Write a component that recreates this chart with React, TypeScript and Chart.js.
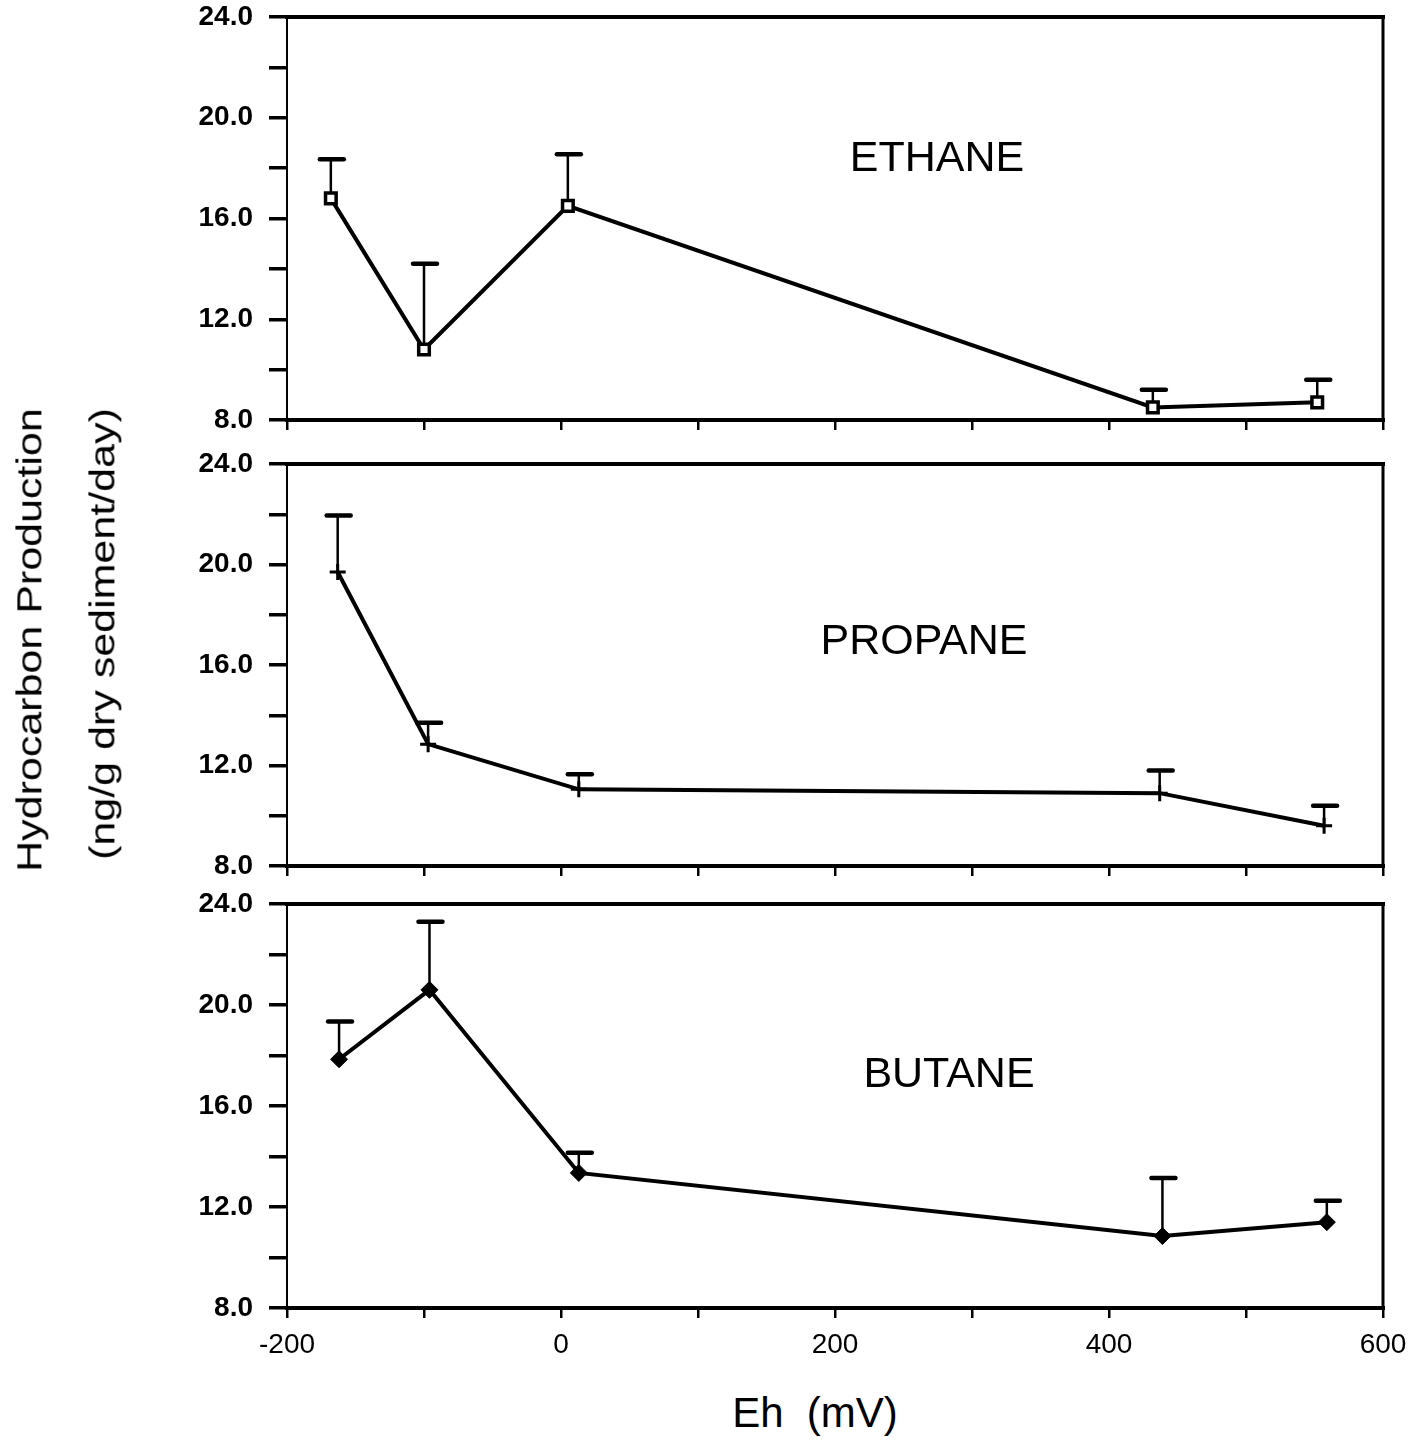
import React, { useEffect, useRef } from 'react';
import { Chart, registerables } from 'chart.js';

Chart.register(...registerables);

// ---------- Data ----------
const ethaneEh = [-168, -100, 5, 432, 552];
const ethaneValues = [16.8, 10.8, 16.5, 8.5, 8.7];
const ethaneErrTop = [18.35, 14.2, 18.55, 9.2, 9.6];

const propaneEh = [-163, -97, 13, 437, 557];
const propaneValues = [19.7, 12.85, 11.05, 10.9, 9.6];
const propaneErrTop = [21.95, 13.7, 11.65, 11.8, 10.4];

const butaneEh = [-162, -96, 13, 439, 559];
const butaneValues = [17.85, 20.6, 13.35, 10.85, 11.4];
const butaneErrTop = [19.35, 23.3, 14.15, 13.15, 12.25];

const panelNames = ['ETHANE', 'PROPANE', 'BUTANE'];
const xTitle = 'Eh  (mV)';
const yTitleLine1 = 'Hydrocarbon Production';
const yTitleLine2 = '(ng/g dry sediment/day)';

const X_MIN = -200;
const X_MAX = 600;
const X_STEP = 100;
const Y_MIN = 8;
const Y_MAX = 24;
const Y_STEP = 2;

// ---------- Layout ----------
const FONT = '"Liberation Sans", Arial, Helvetica, sans-serif';
const W = 1426;
const AREA_LEFT = 287;
const AREA_RIGHT = 1383;
const PAD_TOP = 16;

const framePlugin = {
  id: 'frame',
  afterDatasetsDraw(chart: any) {
    const { ctx, chartArea: a } = chart;
    ctx.save();
    ctx.strokeStyle = '#000';
    ctx.lineCap = 'square';
    const seg = (x1: number, y1: number, x2: number, y2: number, w: number) => {
      ctx.lineWidth = w;
      ctx.beginPath();
      ctx.moveTo(x1, y1);
      ctx.lineTo(x2, y2);
      ctx.stroke();
    };
    seg(a.left, a.top, a.right, a.top, 4);
    seg(a.left, a.bottom, a.right, a.bottom, 4);
    seg(a.left, a.top, a.left, a.bottom, 2);
    seg(a.right, a.top, a.right, a.bottom, 3);
    ctx.restore();
  },
};

const errorBarPlugin = {
  id: 'errbars',
  beforeDatasetsDraw(chart: any) {
    const { ctx, scales } = chart;
    const xs = scales.x;
    const ys = scales.y;
    chart.data.datasets.forEach((ds: any) => {
      if (!ds.errTop) return;
      ds.data.forEach((p: any, i: number) => {
        const px = xs.getPixelForValue(p.x);
        const py = ys.getPixelForValue(p.y);
        const pt = ys.getPixelForValue(ds.errTop[i]);
        ctx.save();
        ctx.strokeStyle = '#000';
        ctx.lineWidth = 2.5;
        ctx.beginPath();
        ctx.moveTo(px, py);
        ctx.lineTo(px, pt);
        ctx.stroke();
        ctx.lineWidth = 4.5;
        ctx.lineCap = 'round';
        ctx.beginPath();
        ctx.moveTo(px - 11, pt);
        ctx.lineTo(px + 13, pt);
        ctx.stroke();
        ctx.restore();
      });
    });
  },
};

type PanelProps = {
  eh: number[];
  values: number[];
  errTop: number[];
  areaTop: number;
  areaBottom: number;
  bottomExtra: number;
  showXLabels: boolean;
  pointStyle: string;
  pointRadius: number;
  pointBg: string;
  pointBorderWidth: number;
};

function Panel(props: PanelProps) {
  const ref = useRef<HTMLCanvasElement | null>(null);
  const height = PAD_TOP + (props.areaBottom - props.areaTop) + props.bottomExtra;
  const top = props.areaTop - PAD_TOP;

  useEffect(() => {
    if (!ref.current) return;
    const chart = new Chart(ref.current, {
      type: 'line',
      data: {
        datasets: [
          {
            data: props.eh.map((x, i) => ({ x, y: props.values[i] })),
            errTop: props.errTop,
            borderColor: '#000',
            borderWidth: 4,
            pointStyle: props.pointStyle as any,
            pointRadius: props.pointRadius,
            pointBackgroundColor: props.pointBg,
            pointBorderColor: '#000',
            pointBorderWidth: props.pointBorderWidth,
            tension: 0,
          } as any,
        ],
      },
      options: {
        animation: false,
        responsive: false,
        maintainAspectRatio: false,
        events: [],
        layout: { padding: { top: PAD_TOP, left: 0, right: W - AREA_RIGHT, bottom: 0 } },
        plugins: { legend: { display: false }, tooltip: { enabled: false } },
        scales: {
          x: {
            type: 'linear',
            min: X_MIN,
            max: X_MAX,
            border: { display: false },
            grid: { drawOnChartArea: false, drawTicks: true, tickLength: 10, lineWidth: 2.5, color: '#000' },
            ticks: {
              stepSize: X_STEP,
              color: '#000',
              padding: 10,
              font: { family: FONT, size: 28 },
              callback: (v: any) => (props.showXLabels && Number(v) % 200 === 0 ? String(v) : ''),
            },
            afterFit: (s: any) => {
              s.height = props.bottomExtra;
              s.paddingLeft = 0;
              s.paddingRight = 0;
            },
          },
          y: {
            type: 'linear',
            min: Y_MIN,
            max: Y_MAX,
            border: { display: false },
            grid: { drawOnChartArea: false, drawTicks: true, tickLength: 18, lineWidth: 3.5, color: '#000' },
            ticks: {
              stepSize: Y_STEP,
              color: '#000',
              padding: 16,
              font: { family: FONT, size: 28, weight: 'bold' },
              callback: (v: any) => (Number(v) % 4 === 0 ? Number(v).toFixed(1) : ''),
            },
            afterFit: (s: any) => {
              s.width = AREA_LEFT;
              s.paddingTop = 0;
              s.paddingBottom = 0;
            },
          },
        },
      } as any,
      plugins: [errorBarPlugin, framePlugin],
    });
    return () => chart.destroy();
  }, []);

  return (
    <canvas
      ref={ref}
      width={W}
      height={height}
      style={{ position: 'absolute', left: 0, top, width: W, height }}
    />
  );
}

const textBase: React.CSSProperties = {
  position: 'absolute',
  fontFamily: FONT,
  color: '#000',
  lineHeight: 1,
  whiteSpace: 'pre',
};

export default function App() {
  return (
    <div style={{ position: 'absolute', left: 0, top: 0, width: W, height: 1444, background: '#fff', overflow: 'hidden' }}>
      <Panel eh={ethaneEh} values={ethaneValues} errTop={ethaneErrTop} areaTop={17} areaBottom={420} bottomExtra={20}
        showXLabels={false} pointStyle="rect" pointRadius={7.5} pointBg="#fff" pointBorderWidth={3.5} />
      <Panel eh={propaneEh} values={propaneValues} errTop={propaneErrTop} areaTop={464} areaBottom={866} bottomExtra={20}
        showXLabels={false} pointStyle="cross" pointRadius={8} pointBg="#000" pointBorderWidth={3} />
      <Panel eh={butaneEh} values={butaneValues} errTop={butaneErrTop} areaTop={904} areaBottom={1308} bottomExtra={60}
        showXLabels={true} pointStyle="rectRot" pointRadius={8.5} pointBg="#000" pointBorderWidth={1} />

      <div style={{ ...textBase, fontSize: 43, left: 937, top: 156, transform: 'translate(-50%, -50%)' }}>{panelNames[0]}</div>
      <div style={{ ...textBase, fontSize: 43, left: 924, top: 639, transform: 'translate(-50%, -50%)' }}>{panelNames[1]}</div>
      <div style={{ ...textBase, fontSize: 43, left: 949, top: 1072, transform: 'translate(-50%, -50%)' }}>{panelNames[2]}</div>

      <div style={{ ...textBase, fontSize: 42, left: 815, top: 1413, transform: 'translate(-50%, -50%)' }}>{xTitle}</div>

      <div style={{ ...textBase, fontSize: 43, left: 30, top: 640, transform: 'translate(-50%, -50%) rotate(-90deg) scale(1, 0.8)' }}>{yTitleLine1}</div>
      <div style={{ ...textBase, fontSize: 43, left: 103, top: 634, transform: 'translate(-50%, -50%) rotate(-90deg) scale(1, 0.8)' }}>{yTitleLine2}</div>
    </div>
  );
}
